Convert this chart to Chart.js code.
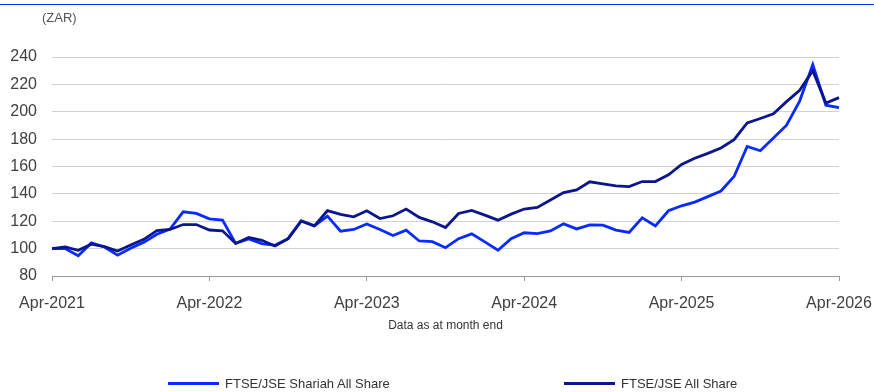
<!DOCTYPE html>
<html>
<head>
<meta charset="utf-8">
<title>FTSE/JSE Shariah All Share vs FTSE/JSE All Share</title>
<script src="https://cdn.jsdelivr.net/npm/chart.js@4.4.1/dist/chart.umd.min.js"></script>
<style>
  html, body { margin: 0; padding: 0; background: #fff; }
  body { font-family: "Liberation Sans", Arial, sans-serif; }
  #wrap { position: relative; width: 874px; height: 392px; overflow: hidden; }
  #topRule { position: absolute; left: 0; top: 4px; width: 874px; height: 1px; background: #0a2bff; }
  #unit { position: absolute; left: 42px; top: 10px; font-size: 13px; color: #555; }
  .key { position: absolute; top: 376px; font-size: 13px; color: #333; line-height: 16px; white-space: nowrap; }
  .key span { display: inline-block; width: 51px; height: 3px; vertical-align: middle; margin-right: 6px; position: relative; top: -1px; }
</style>
</head>
<body>
<div id="wrap">
  <canvas id="perfChart" width="874" height="392"></canvas>
  <div id="topRule"></div>
  <div id="unit">(ZAR)</div>
  <div class="key" style="left:168px"><span style="background:#0a2bff"></span>FTSE/JSE Shariah All Share</div>
  <div class="key" style="left:564px"><span style="background:#0b168c"></span>FTSE/JSE All Share</div>
</div>
<script>
// month-end dates, Apr-2021 .. Apr-2026
var months = [
  'Apr-2021','May-2021','Jun-2021','Jul-2021','Aug-2021','Sep-2021','Oct-2021','Nov-2021','Dec-2021','Jan-2022','Feb-2022','Mar-2022',
  'Apr-2022','May-2022','Jun-2022','Jul-2022','Aug-2022','Sep-2022','Oct-2022','Nov-2022','Dec-2022','Jan-2023','Feb-2023','Mar-2023',
  'Apr-2023','May-2023','Jun-2023','Jul-2023','Aug-2023','Sep-2023','Oct-2023','Nov-2023','Dec-2023','Jan-2024','Feb-2024','Mar-2024',
  'Apr-2024','May-2024','Jun-2024','Jul-2024','Aug-2024','Sep-2024','Oct-2024','Nov-2024','Dec-2024','Jan-2025','Feb-2025','Mar-2025',
  'Apr-2025','May-2025','Jun-2025','Jul-2025','Aug-2025','Sep-2025','Oct-2025','Nov-2025','Dec-2025','Jan-2026','Feb-2026','Mar-2026',
  'Apr-2026'
];

// rebased to 100 at Apr-2021
var shariahAllShare = [
  100, 100, 94.8, 104.2, 101.2, 95.2, 100.3, 104.6, 110.5, 114.3, 126.9, 125.7,
  121.8, 120.8, 103.8, 107, 103.7, 102.4, 107.3, 120.3, 116.6, 123.8, 112.7, 114,
  118, 114, 109.6, 113.5, 105.6, 105.1, 100.7, 107.3, 110.8, 104.9, 98.8, 107.3,
  111.6, 111, 112.9, 118.1, 114.4, 117.4, 117.1, 113.5, 111.8, 122.5, 116.6, 127.7,
  131.3, 134, 138, 142.1, 152.7, 174.7, 171.5, 180.9, 190.2, 207.8, 234.5, 204.8,
  203
];

var jseAllShare = [
  100, 101.2, 98.8, 103.2, 101.4, 98.2, 102.6, 106.8, 113.2, 114, 117.6, 117.6,
  113.6, 113, 103.8, 108.1, 106.1, 101.9, 107.3, 120.3, 116.6, 127.7, 125, 123.2,
  127.6, 122, 124, 128.9, 122.8, 119.6, 115.4, 125.7, 127.9, 124.5, 120.8, 125.2,
  128.9, 130.1, 135.5, 140.9, 142.9, 148.8, 147.3, 145.8, 145.3, 149, 149, 153.9,
  161.5, 166, 169.6, 173.5, 179.6, 191.9, 195.1, 198.5, 207.4, 215.7, 230, 206.3,
  210.3
];

var yTicks = { min: 80, max: 240, step: 20 };

var tickFont = { family: '"Liberation Sans", Arial, sans-serif', size: 16 };

var ctx = document.getElementById('perfChart').getContext('2d');

new Chart(ctx, {
  type: 'line',
  data: {
    labels: months,
    datasets: [
      {
        label: 'FTSE/JSE Shariah All Share',
        data: shariahAllShare,
        borderColor: '#0a2bff',
        borderWidth: 2.8,
        pointRadius: 0,
        tension: 0,
        order: 1
      },
      {
        label: 'FTSE/JSE All Share',
        data: jseAllShare,
        borderColor: '#0b168c',
        borderWidth: 2.8,
        pointRadius: 0,
        tension: 0,
        order: 0
      }
    ]
  },
  options: {
    responsive: false,
    animation: false,
    devicePixelRatio: 1,
    layout: {
      padding: { top: 57, right: 35, left: 0, bottom: 55 }
    },
    plugins: {
      legend: { display: false },
      tooltip: { enabled: false }
    },
    scales: {
      x: {
        offset: false,
        afterFit: function(scale) {
          scale.height = 61;
          // let the end labels hang over the edges instead of shrinking the plot
          scale.paddingLeft = 0;
          scale.paddingRight = 0;
        },
        // only the April ticks are labelled
        afterBuildTicks: function(scale) {
          scale.ticks = scale.ticks.filter(function(t) { return t.value % 12 === 0; });
        },
        grid: {
          drawOnChartArea: false,
          drawTicks: true,
          tickLength: 5,
          tickColor: '#9a9a9a'
        },
        border: { color: '#9a9a9a', width: 1 },
        ticks: {
          autoSkip: false,
          maxRotation: 0,
          padding: 13,
          color: '#404040',
          font: tickFont
        },
        title: {
          display: true,
          text: 'Data as at month end',
          color: '#333',
          font: { family: '"Liberation Sans", Arial, sans-serif', size: 12 },
          padding: { top: 0, bottom: 4 }
        }
      },
      y: {
        min: yTicks.min,
        max: yTicks.max,
        afterFit: function(scale) { scale.width = 52; },
        grid: {
          color: '#d2d2d2',
          lineWidth: 1,
          drawTicks: false
        },
        border: { display: false },
        ticks: {
          stepSize: yTicks.step,
          padding: 15,
          color: '#404040',
          font: tickFont
        }
      }
    }
  }
});
</script>
</body>
</html>
